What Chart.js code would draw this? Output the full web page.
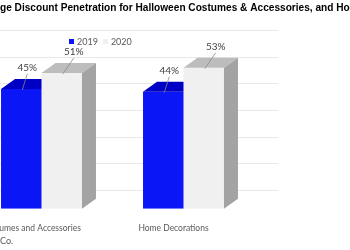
<!DOCTYPE html>
<html>
<head>
<meta charset="utf-8">
<script src="https://cdn.jsdelivr.net/npm/chart.js@4"></script>
<style>
  body { margin: 0; background: #fff; }
  #wrap { position: relative; width: 350px; height: 250px; overflow: hidden; background: #fff; }
  #chart { position: absolute; left: -40px; top: 0; }
</style>
</head>
<body>
<div id="wrap"><canvas id="chart" width="488" height="250"></canvas></div>
<script>
const categories = ["Costumes and Accessories", "Home Decorations"];
const seriesNames = ["2019", "2020"];
const values2019 = [45, 44];
const values2020 = [51, 53];
const gridValues = [0, 10, 20, 30, 40, 50, 60];

const titleText = "Average Discount Penetration for Halloween Costumes & Accessories, and Home Decorations";
const sourceText = "Co.";

document.addEventListener("DOMContentLoaded", function () {
  const ctx = document.getElementById("chart");
  const shiftX = 40; // canvas is pushed left, the picture is a crop

  // 3d look of the Excel chart: back wall grid, top and side faces
  const depthX = 14;
  const depthY = 10;
  const wallShift = 19;
  const faceColors = [
    { top: "#0000c4", side: "#0000a0" },
    { top: "#bdbdbd", side: "#a3a3a3" },
  ];
  const labelShift = [6, 12];

  const fake3d = {
    id: "fake3d",
    beforeDatasetsDraw(chart) {
      const c = chart.ctx;
      const y = chart.scales.y;
      const area = chart.chartArea;
      c.save();
      c.strokeStyle = "#e8e8e8";
      c.lineWidth = 1;
      gridValues.forEach(function (v) {
        const py = Math.round(y.getPixelForValue(v) - wallShift) + 0.5;
        c.beginPath();
        c.moveTo(area.left, py);
        c.lineTo(area.right + 24, py);
        c.stroke();
      });
      c.restore();
    },
    afterDatasetsDraw(chart) {
      const c = chart.ctx;
      const last = chart.data.datasets.length - 1;
      c.save();
      chart.data.datasets.forEach(function (ds, i) {
        chart.getDatasetMeta(i).data.forEach(function (bar) {
          const l = bar.x - bar.width / 2;
          const r = bar.x + bar.width / 2;
          const t = bar.y;
          const b = bar.base;
          c.fillStyle = faceColors[i].top;
          c.beginPath();
          c.moveTo(l, t);
          c.lineTo(r, t);
          if (i === last) {
            c.lineTo(r + depthX, t - depthY);
          } else {
            c.lineTo(r, t - depthY);
          }
          c.lineTo(l + depthX, t - depthY);
          c.closePath();
          c.fill();
          if (i === last) {
            c.fillStyle = faceColors[i].side;
            c.beginPath();
            c.moveTo(r, t);
            c.lineTo(r + depthX, t - depthY);
            c.lineTo(r + depthX, b - depthY);
            c.lineTo(r, b);
            c.closePath();
            c.fill();
          }
        });
      });
      c.restore();
    },
    afterDraw(chart) {
      const c = chart.ctx;
      const area = chart.chartArea;
      c.save();
      // title, a bit condensed like the original
      c.font = "bold 11.5px 'Liberation Sans'";
      c.textBaseline = "middle";
      c.textAlign = "left";
      const sx = 0.88;
      const skip = c.measureText("Avera").width * sx;
      c.save();
      c.translate(shiftX - skip, 8);
      c.scale(sx, 1);
      c.fillStyle = "#000";
      c.fillText(titleText, 0, 0);
      c.restore();

      // value labels with leader lines
      c.font = "10px Lato";
      c.textAlign = "center";
      chart.data.datasets.forEach(function (ds, i) {
        chart.getDatasetMeta(i).data.forEach(function (bar, j) {
          const lx = bar.x + labelShift[i];
          const ly = bar.y - 21;
          c.fillStyle = "#404040";
          c.fillText(ds.data[j] + "%", lx, ly);
          c.strokeStyle = "#8a8a8a";
          c.lineWidth = 0.8;
          c.beginPath();
          c.moveTo(lx, ly + 6);
          c.lineTo(bar.x + 1, bar.y + 1);
          c.stroke();
        });
      });
      // legend inside plot
      let x = area.left + 98.5;
      const ly = area.top + 19.5;
      c.textAlign = "left";
      c.font = "9px Lato";
      chart.data.datasets.forEach(function (ds) {
        c.fillStyle = ds.backgroundColor;
        c.fillRect(x, ly - 3, 5, 5);
        c.fillStyle = "#595959";
        c.fillText(ds.label, x + 8, ly);
        x += 8 + c.measureText(ds.label).width + 5;
      });
      // source line
      c.fillStyle = "#595959";
      c.fillText(sourceText, shiftX, 241);
      c.restore();
    },
  };

  new Chart(ctx, {
    type: "bar",
    data: {
      labels: categories,
      datasets: [
        {
          label: seriesNames[0],
          data: values2019,
          backgroundColor: "#0a16f6",
        },
        {
          label: seriesNames[1],
          data: values2020,
          backgroundColor: "#f0f0f0",
        },
      ],
    },
    options: {
      responsive: false,
      animation: false,
      layout: {
        padding: { left: 10.5, right: 193.5, top: 22.5, bottom: 3 },
      },
      datasets: {
        bar: { barPercentage: 1, categoryPercentage: 0.57 },
      },
      plugins: {
        legend: { display: false },
        tooltip: { enabled: false },
        title: { display: false },
      },
      scales: {
        x: {
          grid: { display: false, drawTicks: false },
          border: { display: false },
          ticks: {
            color: "#595959",
            font: { family: "Lato", size: 8.5 },
            padding: 14,
            labelOffset: -10,
            maxRotation: 0,
          },
        },
        y: {
          display: false,
          min: 0,
          max: 70,
        },
      },
    },
    plugins: [fake3d],
  });
});
</script>
</body>
</html>
